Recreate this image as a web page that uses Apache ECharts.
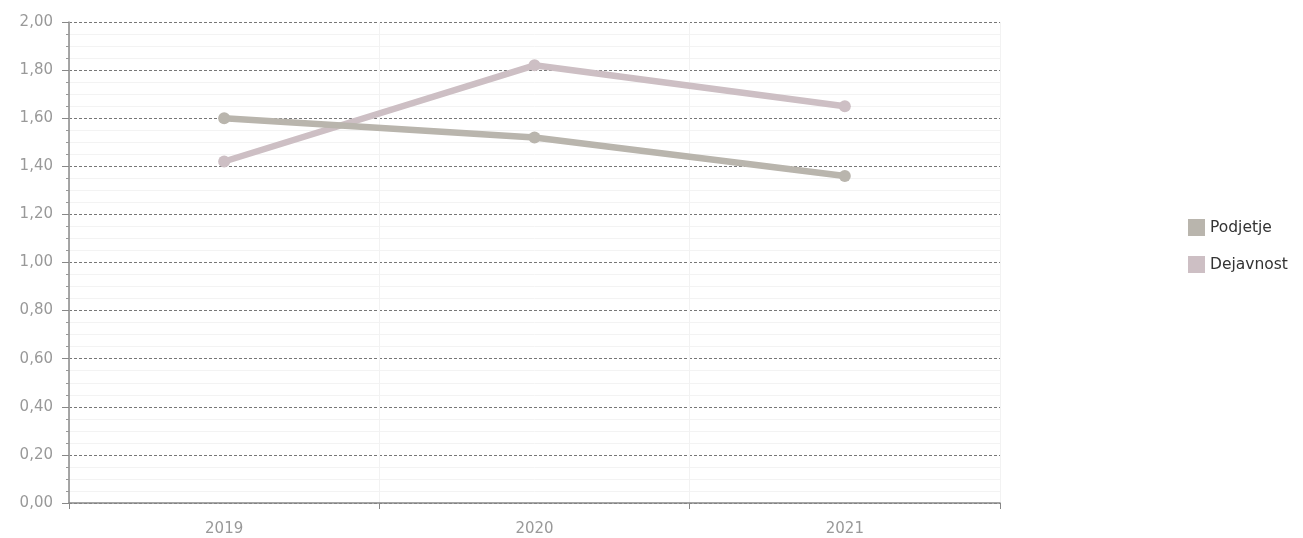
<!DOCTYPE html>
<html><head><meta charset="utf-8">
<script src="https://cdn.jsdelivr.net/npm/echarts@6/dist/echarts.min.js"></script>
<style>html,body{margin:0;padding:0;background:#fff}#c{width:1303px;height:538px}</style>
</head><body><div id="c"></div>
<script>
const categories = ['2019', '2020', '2021'];
const podjetje = [1.60, 1.52, 1.36];
const dejavnost = [1.42, 1.82, 1.65];
const seriesNames = ['Podjetje', 'Dejavnost'];

const chart = echarts.init(document.getElementById('c'));
const font = "'DejaVu Sans', Verdana, sans-serif";
chart.setOption({
  animation: false,
  grid: {left: 69, right: 303, top: 22, bottom: 35},
  legend: {
    orient: 'vertical', left: 1183, top: 214, itemWidth: 17, itemHeight: 17, itemGap: 20,
    icon: 'rect',
    textStyle: {fontFamily: font, fontSize: 15.5, color: '#333'},
    data: seriesNames
  },
  xAxis: {
    type: 'category', data: categories, boundaryGap: true,
    axisLine: {lineStyle: {color: '#888', width: 1.5}},
    axisTick: {show: true, length: 6, lineStyle: {color: '#888'}},
    axisLabel: {fontFamily: font, fontSize: 15, color: '#999', margin: 19},
    splitLine: {show: true, lineStyle: {color: '#f2f2f2', width: 1}}
  },
  yAxis: {
    type: 'value', min: 0, max: 2, interval: 0.2,
    axisLine: {show: true, lineStyle: {color: '#888', width: 1.5}},
    axisTick: {show: true, length: 7, lineStyle: {color: '#888'}},
    minorTick: {show: true, splitNumber: 4, length: 3, lineStyle: {color: '#999'}},
    minorSplitLine: {show: true, lineStyle: {color: '#f3f3f3', width: 1}},
    axisLabel: {fontFamily: font, fontSize: 15, color: '#999', margin: 16,
      formatter: v => v.toFixed(2).replace('.', ',')},
    splitLine: {show: true, lineStyle: {color: '#777', width: 1, type: [3, 2]}}
  },
  series: [
    {name: seriesNames[0], type: 'line', data: podjetje, color: '#b9b5ad',
     lineStyle: {width: 6.5}, symbol: 'circle', symbolSize: 12, z: 3},
    {name: seriesNames[1], type: 'line', data: dejavnost, color: '#cdbfc4',
     lineStyle: {width: 6.5}, symbol: 'circle', symbolSize: 12, z: 2}
  ]
});
</script></body></html>
